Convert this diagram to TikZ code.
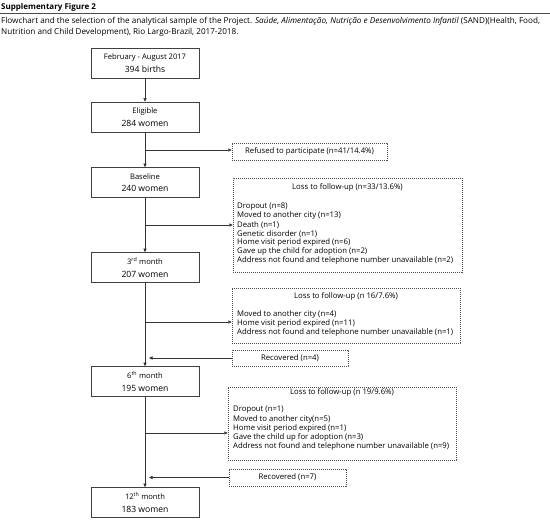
\documentclass[tikz,border=0pt]{standalone}
\usepackage{fontspec}
\setmainfont{Open Sans}
\usetikzlibrary{arrows.meta}
\begin{document}
\begin{tikzpicture}[x=1pt,y=-1pt,
  mainbox/.style={draw=black!75, line width=0.8pt, minimum width=108pt, minimum height=30pt, inner sep=0pt, align=center},
  dbox/.style={draw=black!70, line width=0.5pt, dash pattern=on 1.2pt off 0.8pt, inner sep=0pt},
  arr/.style={draw=black!80, line width=0.6pt, -{Triangle[length=3.5pt,width=3.2pt]}},
  txt/.style={inner sep=0pt, font=\fontsize{7.75}{9}\selectfont},
  itm/.style={txt, anchor=west},
]
\newcommand{\toptxt}{\fontsize{7.6}{8}\selectfont}
\newcommand{\bigtxt}{\fontsize{8.6}{9}\selectfont}
\useasboundingbox (0,0) rectangle (550,520);
% header
\node[anchor=west, inner sep=0pt, font=\bfseries\fontsize{8}{9}\selectfont] (hdr) at (1,7) {Supplementary Figure 2};
\draw[black!70, line width=1.1pt] (0,13.5) -- (550,13.5);
\node[anchor=west, inner sep=0pt, font=\fontsize{8.15}{9}\selectfont] (cap1) at (1,21.7) {Flowchart and the selection of the analytical sample of the Project. \textit{Saúde, Alimentação, Nutrição e Desenvolvimento Infantil} (SAND)(Health, Food,};
\node[anchor=west, inner sep=0pt, font=\fontsize{8.15}{9}\selectfont] (cap2) at (1,32) {Nutrition and Child Development), Rio Largo-Brazil, 2017-2018.};
% main boxes
\node[mainbox] (b1) at (145,63) {{\toptxt February - August 2017}\\[0.5pt]{\bigtxt 394 births}};
\node[mainbox] (b2) at (145,117) {{\toptxt Eligible}\\[0.5pt]{\bigtxt 284 women}};
\node[mainbox] (b3) at (145,182.5) {{\toptxt Baseline}\\[0.5pt]{\bigtxt 240 women}};
\node[mainbox] (b4) at (145,267.5) {{\toptxt 3\textsuperscript{rd} month}\\[0.5pt]{\bigtxt 207 women}};
\node[mainbox] (b5) at (145,381.5) {{\toptxt 6\textsuperscript{th} month}\\[0.5pt]{\bigtxt 195 women}};
\node[mainbox] (b6) at (145,502.5) {{\toptxt 12\textsuperscript{th} month}\\[0.5pt]{\bigtxt 183 women}};
% dashed boxes
\node[dbox, minimum width=155pt, minimum height=17pt, txt] (ref) at (309.5,151.5) {Refused to participate (n=41/14.4\%)};
\node[dbox, minimum width=229pt, minimum height=94pt] (loss1) at (347.5,225) {};
\node[dbox, minimum width=228pt, minimum height=55pt] (loss2) at (346,315.5) {};
\node[dbox, minimum width=116pt, minimum height=16pt, txt] (rec1) at (290,358) {Recovered (n=4)};
\node[dbox, minimum width=228pt, minimum height=73pt] (loss3) at (342,423.5) {};
\node[dbox, minimum width=117pt, minimum height=17pt, txt] (rec2) at (287.5,477.5) {Recovered (n=7)};
% loss 1 texts
\node[txt] (t1) at (347.5,187) {Loss to follow-up (n=33/13.6\%)};
\foreach \s [count=\i] in {Dropout (n=8),Moved to another city (n=13),Death (n=1),Genetic disorder (n=1),Home visit period expired (n=6),Gave up the child for adoption (n=2),Address not found and telephone number unavailable (n=2)}
  \node[itm] (la\i) at (237,{207+8.95*(\i-1)}) {\s};
% loss 2 texts
\node[txt] (t2) at (346,296) {Loss to follow-up (n 16/7.6\%)};
\foreach \s [count=\i] in {Moved to another city (n=4),Home visit period expired (n=11),Address not found and telephone number unavailable (n=1)}
  \node[itm] (lb\i) at (237,{314+9*(\i-1)}) {\s};
% loss 3 texts
\node[txt] (t3) at (342,392.5) {Loss to follow-up (n 19/9.6\%)};
\foreach \s [count=\i] in {Dropout (n=1),Moved to another city(n=5),Home visit period expired (n=1),Gave the child up for adoption (n=3),Address not found and telephone number unavailable (n=9)}
  \node[itm] (lc\i) at (233,{410+9.2*(\i-1)}) {\s};
% connectors
\draw[arr] (b1) -- (b2);
\draw[arr] (b2) -- (b3);
\draw[arr] (b3) -- (b4);
\draw[arr] (b4) -- (b5);
\draw[arr] (b5) -- (b6);
\coordinate (j1) at (145,150);
\coordinate (j2) at (145,225);
\coordinate (j3) at (145,322);
\coordinate (j4) at (145,433);
\draw[arr] (j1) -- (j1 -| ref.west);
\draw[arr] (j2) -- (j2 -| loss1.west);
\draw[arr] (j3) -- (j3 -| loss2.west);
\draw[arr] (j4) -- (j4 -| loss3.west);
\draw[arr, shorten >=4pt] (rec1.west) -- (rec1.west -| b5);
\draw[arr, shorten >=4pt] (rec2.west) -- (rec2.west -| b6);
\end{tikzpicture}
\end{document}
